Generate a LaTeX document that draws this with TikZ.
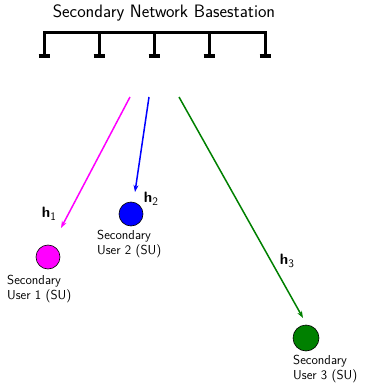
\documentclass[tikz,border=0pt]{standalone}
\usetikzlibrary{arrows.meta}
\definecolor{cmag}{RGB}{255,0,255}
\definecolor{cblue}{RGB}{0,0,255}
\definecolor{cgreen}{RGB}{0,128,0}
\newcommand{\hsub}[1]{\textbf{h}\raisebox{-3.5pt}{\fontsize{11.5}{12}\selectfont #1}}
\begin{document}
\begin{tikzpicture}[x=1pt,y=-1pt,
  bar/.style={line width=3pt},
  foot/.style={line width=3.5pt},
  chan/.style={line width=1.5pt,-{Stealth[length=7pt,width=5pt]}},
  su/.style={circle,draw=black,line width=0.6pt,minimum size=24pt,inner sep=0pt},
  sulabel/.style={anchor=north west,align=left,inner sep=0pt,font=\sffamily\fontsize{13}{15.5}\selectfont},
  hlab/.style={font=\sffamily\fontsize{15}{17}\selectfont}]
\useasboundingbox (0,0) rectangle (368,385);
\node[font=\sffamily\fontsize{18}{20}\selectfont] (title) at (164,13) {Secondary Network Basestation};
% antenna bar
\coordinate (b0) at (44,33);
\coordinate (b4) at (265,33);
\draw[bar,line cap=rect] (b0) -- (b4);
\foreach \x [count=\i] in {44,99,154,209,265}{
  \coordinate (t\i) at (\x,33);
  \coordinate (f\i) at (\x,56);
  \draw[bar] (t\i) -- (f\i);
  \draw[foot] ([xshift=-5.5pt]f\i) -- ([xshift=5.5pt]f\i);
}
% users
\node[su,fill=cmag] (u1) at (48,257) {};
\node[su,fill=cblue] (u2) at (131,214) {};
\node[su,fill=cgreen,minimum size=26pt] (u3) at (306,338) {};
\node[sulabel] (l1) at (7,275) {Secondary\\User 1 (SU)};
\node[sulabel] (l2) at (97,230) {Secondary\\User 2 (SU)};
\node[sulabel] (l3) at (293,355) {Secondary\\User 3 (SU)};
% channels
\coordinate (s1) at (130,97); \coordinate (e1) at (61,228);
\coordinate (s2) at (149,97); \coordinate (e2) at (135,192);
\coordinate (s3) at (179,97); \coordinate (e3) at (303,318);
\draw[chan,cmag] (s1) -- (e1);
\draw[chan,cblue] (s2) -- (e2);
\draw[chan,cgreen] (s3) -- (e3);
\node[hlab] (h1) at (49,214) {\hsub{1}};
\node[hlab] (h2) at (151,199) {\hsub{2}};
\node[hlab] (h3) at (287,261) {\hsub{3}};
\end{tikzpicture}
\end{document}
